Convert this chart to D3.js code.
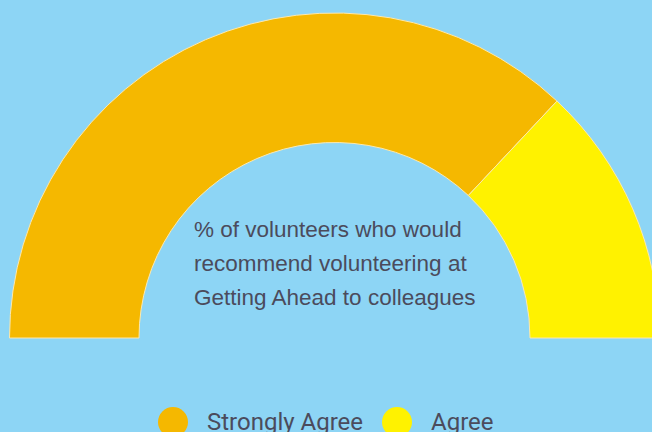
<!DOCTYPE html>
<html>
<head>
<meta charset="utf-8">
<script src="https://cdn.jsdelivr.net/npm/d3@7"></script>
<style>
  html, body { margin: 0; padding: 0; background: #8dd5f5; overflow: hidden; }
</style>
</head>
<body>
<div id="chart"></div>
<script>
var w = 652;
var h = 432;

var categories = ["Strongly Agree", "Agree"];
var values = [74, 26];
var colours = ["#f5b800", "#fff200"];
var titleLines = [
    "% of volunteers who would",
    "recommend volunteering at",
    "Getting Ahead to colleagues"
];

var cx = 334.5;
var cy = 338;
var outerR = 325;
var innerR = 195.5;

var svg = d3.select("#chart")
    .append("svg")
    .attr("width", w)
    .attr("height", h)
    .style("display", "block");

svg.append("rect")
    .attr("width", w)
    .attr("height", h)
    .attr("fill", "#8dd5f5");

var color = d3.scaleOrdinal()
    .domain(categories)
    .range(colours);

var pie = d3.pie()
    .sort(null)
    .startAngle(-Math.PI / 2)
    .endAngle(Math.PI / 2)
    .value(function(d, i) { return values[i]; });

var arc = d3.arc()
    .innerRadius(innerR)
    .outerRadius(outerR);

var g = svg.append("g")
    .attr("transform", "translate(" + cx + "," + cy + ")");

g.selectAll("path")
    .data(pie(categories))
    .enter()
    .append("path")
    .attr("d", arc)
    .attr("fill", function(d) { return color(d.data); })
    .attr("stroke", "#fbe9b0")
    .attr("stroke-width", 1);

// centre text
svg.append("g")
    .selectAll("text")
    .data(titleLines)
    .enter()
    .append("text")
    .attr("x", 194)
    .attr("y", function(d, i) { return 237 + i * 34; })
    .style("font-family", "'Liberation Sans', Arial, sans-serif")
    .style("font-size", "22.5px")
    .style("fill", "#4b4b5c")
    .text(function(d) { return d; });

// legend
var legendX = [173, 397];
var legend = svg.append("g")
    .selectAll("g")
    .data(categories)
    .enter()
    .append("g")
    .attr("transform", function(d, i) { return "translate(" + legendX[i] + ",422)"; });

legend.append("circle")
    .attr("r", 15)
    .attr("fill", function(d) { return color(d); });

legend.append("text")
    .attr("x", 34)
    .attr("y", 8)
    .style("font-family", "Roboto, sans-serif")
    .style("font-size", "24px")
    .style("fill", "#4b4b5c")
    .text(function(d) { return d; });
</script>
</body>
</html>
